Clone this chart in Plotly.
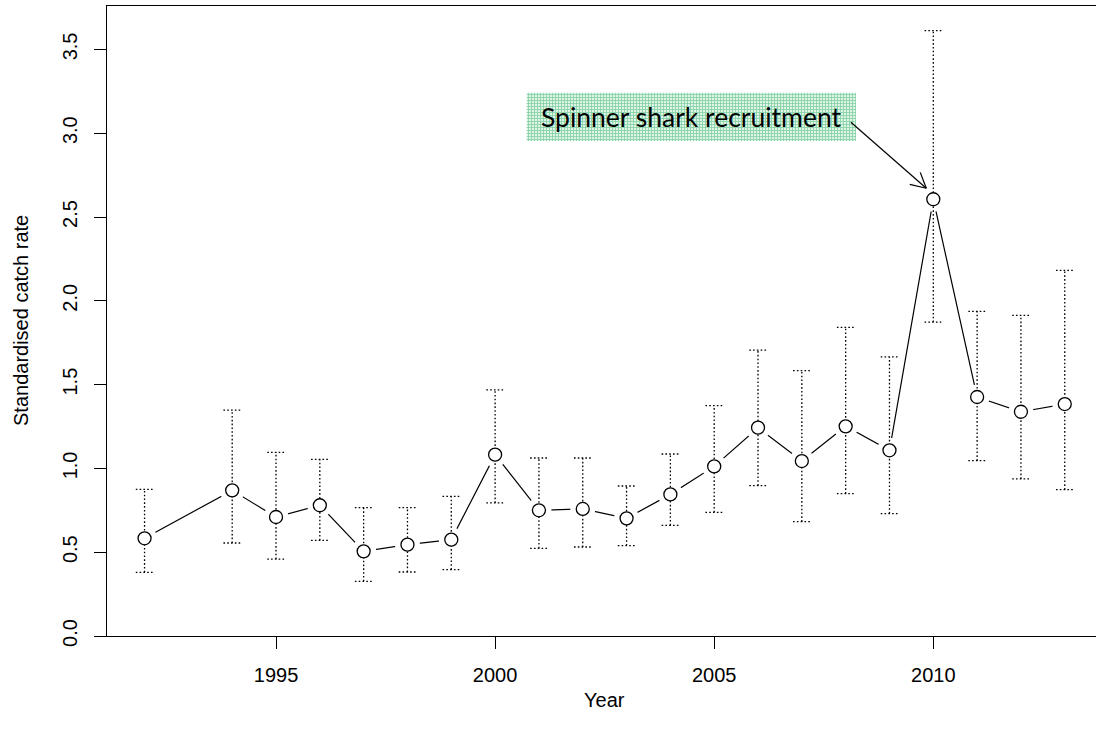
import math
import plotly.graph_objects as go

# Standardised catch rate by year with 95% confidence limits
years = [1992, 1994, 1995, 1996, 1997, 1998, 1999, 2000, 2001, 2002, 2003,
         2004, 2005, 2006, 2007, 2008, 2009, 2010, 2011, 2012, 2013]
cpue = [0.583, 0.869, 0.710, 0.780, 0.505, 0.545, 0.575, 1.082, 0.750, 0.758, 0.702,
        0.845, 1.012, 1.243, 1.044, 1.251, 1.108, 2.606, 1.426, 1.338, 1.384]
lower = [0.380, 0.555, 0.459, 0.571, 0.326, 0.382, 0.396, 0.794, 0.523, 0.531, 0.539,
         0.660, 0.738, 0.897, 0.682, 0.849, 0.730, 1.873, 1.046, 0.937, 0.873]
upper = [0.875, 1.348, 1.096, 1.054, 0.766, 0.766, 0.833, 1.468, 1.062, 1.062, 0.895,
         1.086, 1.374, 1.706, 1.583, 1.842, 1.665, 3.612, 1.937, 1.913, 2.182]

x_ticks = [1995, 2000, 2005, 2010]
y_ticks = [0.0, 0.5, 1.0, 1.5, 2.0, 2.5, 3.0, 3.5]
y_ticktext = [f"{v:.1f}" for v in y_ticks]

note_text = "Spinner shark recruitment"
note_year = 2010

# Figure geometry
W, H = 1096, 742
ML, MR, MT, MB = 107, 0, 6, 106
x_range = [1991.143, 2013.713]
y_range = [0.0, 3.759]
px_x = (W - ML - MR) / (x_range[1] - x_range[0])
px_y = (H - MT - MB) / (y_range[1] - y_range[0])

FONT = "Liberation Sans, Arial, sans-serif"
cap_half = 0.2  # half-width of the error-bar caps, in years
dotted = "1.6px,2.2px"

fig = go.Figure()

# Connecting line
fig.add_trace(go.Scatter(x=years, y=cpue, mode="lines",
                         line=dict(color="black", width=1.2),
                         hoverinfo="skip", showlegend=False))
# White halo so the line stops short of each point
fig.add_trace(go.Scatter(x=years, y=cpue, mode="markers",
                         marker=dict(size=25, color="white", line=dict(width=0)),
                         hoverinfo="skip", showlegend=False))

# Dotted confidence intervals with caps
ex, ey = [], []
for yr, lo, hi in zip(years, lower, upper):
    ex += [yr, yr, None, yr - cap_half, yr + cap_half, None, yr - cap_half, yr + cap_half, None]
    ey += [lo, hi, None, lo, lo, None, hi, hi, None]
fig.add_trace(go.Scatter(x=ex, y=ey, mode="lines",
                         line=dict(color="black", width=1.3, dash=dotted),
                         hoverinfo="skip", showlegend=False))

# Open circles
fig.add_trace(go.Scatter(x=years, y=cpue, mode="markers",
                         marker=dict(size=13, color="white",
                                     line=dict(color="black", width=1.3)),
                         showlegend=False))

# Hatched label box
box_x0, box_x1 = 2000.72, 2008.235
box_y0, box_y1 = 2.953, 3.242
fig.add_trace(go.Bar(x=[(box_x0 + box_x1) / 2], y=[box_y1 - box_y0], base=[box_y0],
                     width=[box_x1 - box_x0],
                     marker=dict(color="white", line=dict(width=0),
                                 pattern=dict(shape="+", fgcolor="#2fb36c",
                                              bgcolor="#dff3e6", size=3, solidity=0.5)),
                     hoverinfo="skip", showlegend=False))
fig.add_annotation(x=(box_x0 + box_x1) / 2, y=(box_y0 + box_y1) / 2,
                   xref="x", yref="y", text=note_text, showarrow=False,
                   font=dict(family="Lato, Open Sans, sans-serif", size=26.5, color="black"))

# Arrow from the label to the 2010 point
tail_x, tail_y = 2008.12, 3.065
idx = years.index(note_year)
tip_x = note_year - 7.0 / px_x
tip_y = cpue[idx] + 11.0 / px_y
dxp = (tip_x - tail_x) * px_x
dyp = (tip_y - tail_y) * px_y
ang = math.atan2(dyp, dxp)
head_len = 17
ax_pts, ay_pts = [tail_x, tip_x, None], [tail_y, tip_y, None]
for s in (1, -1):
    a = ang + math.pi - s * math.radians(28)
    ax_pts += [tip_x, tip_x + head_len * math.cos(a) / px_x, None]
    ay_pts += [tip_y, tip_y + head_len * math.sin(a) / px_y, None]
fig.add_trace(go.Scatter(x=ax_pts, y=ay_pts, mode="lines",
                         line=dict(color="black", width=1.2),
                         hoverinfo="skip", showlegend=False))

# Axis titles
fig.add_annotation(text="Year", xref="paper", yref="paper",
                   x=(604 - ML) / (W - ML - MR), y=(636 - 700) / (H - MT - MB),
                   xanchor="center", yanchor="middle", showarrow=False,
                   font=dict(family=FONT, size=20, color="black"))
fig.add_annotation(text="Standardised catch rate", xref="paper", yref="paper",
                   x=(21 - ML) / (W - ML - MR), y=0.5, textangle=-90,
                   xanchor="center", yanchor="middle", showarrow=False,
                   font=dict(family=FONT, size=20, color="black"))

fig.update_layout(
    width=W, height=H,
    margin=dict(l=ML, r=MR, t=MT, b=MB, pad=0),
    paper_bgcolor="white", plot_bgcolor="white",
    showlegend=False, barmode="overlay",
    font=dict(family=FONT, size=20, color="black"),
    xaxis=dict(range=x_range, tickvals=x_ticks, ticks="outside", ticklen=12,
               tickwidth=1, tickcolor="black", showline=True, linecolor="black",
               linewidth=1, mirror=True, showgrid=False, zeroline=False,
               ticklabelstandoff=9, tickfont=dict(family=FONT, size=20)),
    yaxis=dict(range=y_range, tickvals=y_ticks, ticktext=y_ticktext, tickangle=-90,
               ticks="outside", ticklen=12, tickwidth=1, tickcolor="black",
               showline=True, linecolor="black", linewidth=1, mirror=False,
               showgrid=False, zeroline=False, ticklabelstandoff=9,
               tickfont=dict(family=FONT, size=20)),
)

fig.write_html("out.html")
